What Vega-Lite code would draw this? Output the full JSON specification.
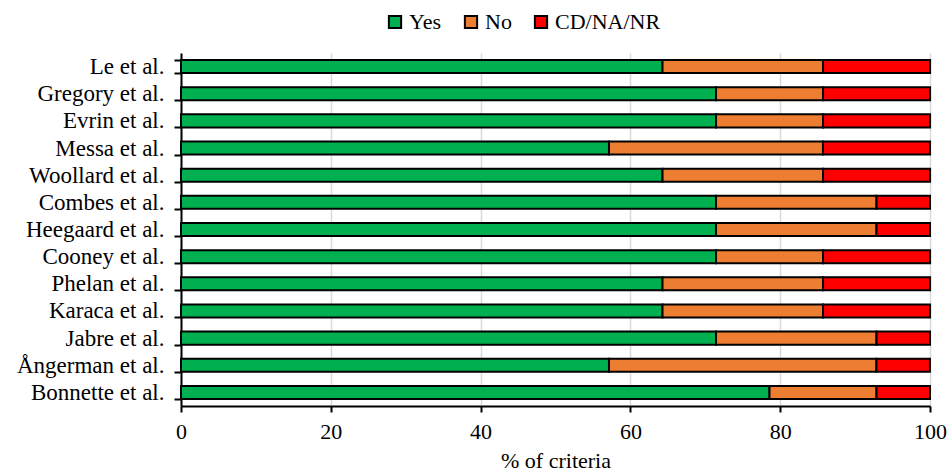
{
  "$schema": "https://vega.github.io/schema/vega-lite/v6.json",
  "width": 749,
  "height": 353,
  "autosize": "none",
  "padding": {"left": 181, "top": 53, "right": 20, "bottom": 68},
  "background": "white",
  "config": {"view": {"stroke": null}, "font": "Liberation Serif"},
  "data": {"values": [
    {"study": "Le et al.", "cat": "Yes", "ord": 1, "value": 64.29},
    {"study": "Le et al.", "cat": "No", "ord": 2, "value": 21.43},
    {"study": "Le et al.", "cat": "CD/NA/NR", "ord": 3, "value": 14.29},
    {"study": "Gregory et al.", "cat": "Yes", "ord": 1, "value": 71.43},
    {"study": "Gregory et al.", "cat": "No", "ord": 2, "value": 14.29},
    {"study": "Gregory et al.", "cat": "CD/NA/NR", "ord": 3, "value": 14.29},
    {"study": "Evrin et al.", "cat": "Yes", "ord": 1, "value": 71.43},
    {"study": "Evrin et al.", "cat": "No", "ord": 2, "value": 14.29},
    {"study": "Evrin et al.", "cat": "CD/NA/NR", "ord": 3, "value": 14.29},
    {"study": "Messa et al.", "cat": "Yes", "ord": 1, "value": 57.14},
    {"study": "Messa et al.", "cat": "No", "ord": 2, "value": 28.57},
    {"study": "Messa et al.", "cat": "CD/NA/NR", "ord": 3, "value": 14.29},
    {"study": "Woollard et al.", "cat": "Yes", "ord": 1, "value": 64.29},
    {"study": "Woollard et al.", "cat": "No", "ord": 2, "value": 21.43},
    {"study": "Woollard et al.", "cat": "CD/NA/NR", "ord": 3, "value": 14.29},
    {"study": "Combes et al.", "cat": "Yes", "ord": 1, "value": 71.43},
    {"study": "Combes et al.", "cat": "No", "ord": 2, "value": 21.43},
    {"study": "Combes et al.", "cat": "CD/NA/NR", "ord": 3, "value": 7.14},
    {"study": "Heegaard et al.", "cat": "Yes", "ord": 1, "value": 71.43},
    {"study": "Heegaard et al.", "cat": "No", "ord": 2, "value": 21.43},
    {"study": "Heegaard et al.", "cat": "CD/NA/NR", "ord": 3, "value": 7.14},
    {"study": "Cooney et al.", "cat": "Yes", "ord": 1, "value": 71.43},
    {"study": "Cooney et al.", "cat": "No", "ord": 2, "value": 14.29},
    {"study": "Cooney et al.", "cat": "CD/NA/NR", "ord": 3, "value": 14.29},
    {"study": "Phelan et al.", "cat": "Yes", "ord": 1, "value": 64.29},
    {"study": "Phelan et al.", "cat": "No", "ord": 2, "value": 21.43},
    {"study": "Phelan et al.", "cat": "CD/NA/NR", "ord": 3, "value": 14.29},
    {"study": "Karaca et al.", "cat": "Yes", "ord": 1, "value": 64.29},
    {"study": "Karaca et al.", "cat": "No", "ord": 2, "value": 21.43},
    {"study": "Karaca et al.", "cat": "CD/NA/NR", "ord": 3, "value": 14.29},
    {"study": "Jabre et al.", "cat": "Yes", "ord": 1, "value": 71.43},
    {"study": "Jabre et al.", "cat": "No", "ord": 2, "value": 21.43},
    {"study": "Jabre et al.", "cat": "CD/NA/NR", "ord": 3, "value": 7.14},
    {"study": "Ångerman et al.", "cat": "Yes", "ord": 1, "value": 57.14},
    {"study": "Ångerman et al.", "cat": "No", "ord": 2, "value": 35.71},
    {"study": "Ångerman et al.", "cat": "CD/NA/NR", "ord": 3, "value": 7.14},
    {"study": "Bonnette et al.", "cat": "Yes", "ord": 1, "value": 78.57},
    {"study": "Bonnette et al.", "cat": "No", "ord": 2, "value": 14.29},
    {"study": "Bonnette et al.", "cat": "CD/NA/NR", "ord": 3, "value": 7.14}
  ]},
  "mark": {"type": "bar", "stroke": "black", "strokeWidth": 2},
  "encoding": {
    "y": {
      "field": "study", "type": "nominal", "sort": null,
      "scale": {"paddingInner": 0.52, "paddingOuter": 0.26},
      "axis": {
        "title": null, "labelFont": "Liberation Serif", "labelFontSize": 23,
        "labelColor": "black", "labelPadding": 10, "tickBand": "extent",
        "tickColor": "black", "tickSize": 7, "tickWidth": 2,
        "domainColor": "black", "domainWidth": 2, "grid": false
      }
    },
    "x": {
      "field": "value", "type": "quantitative", "stack": "zero",
      "scale": {"domain": [0, 100], "nice": false},
      "axis": {
        "title": "% of criteria", "titleFont": "Liberation Serif", "titleFontSize": 22,
        "titleFontWeight": "normal", "titleColor": "black", "titlePadding": 8,
        "values": [0, 20, 40, 60, 80, 100], "labelFlush": false,
        "labelFont": "Liberation Serif", "labelFontSize": 22, "labelColor": "black",
        "labelPadding": 9, "tickColor": "black", "tickSize": 6, "tickWidth": 2,
        "domainColor": "black", "domainWidth": 2,
        "grid": true, "gridColor": "#d9d9d9", "gridWidth": 1.5
      }
    },
    "color": {
      "field": "cat", "type": "nominal",
      "scale": {"domain": ["Yes", "No", "CD/NA/NR"], "range": ["#00B050", "#ED7D31", "#FF0000"]},
      "legend": {
        "title": null, "orient": "none", "direction": "horizontal",
        "legendX": 203, "legendY": -42,
        "symbolType": "square", "symbolSize": 150, "symbolStrokeColor": "black",
        "symbolStrokeWidth": 2, "symbolOpacity": 1,
        "labelFont": "Liberation Serif", "labelFontSize": 22, "labelColor": "black",
        "labelOffset": 3, "columnPadding": 18
      }
    },
    "order": {"field": "ord", "type": "quantitative"}
  }
}
